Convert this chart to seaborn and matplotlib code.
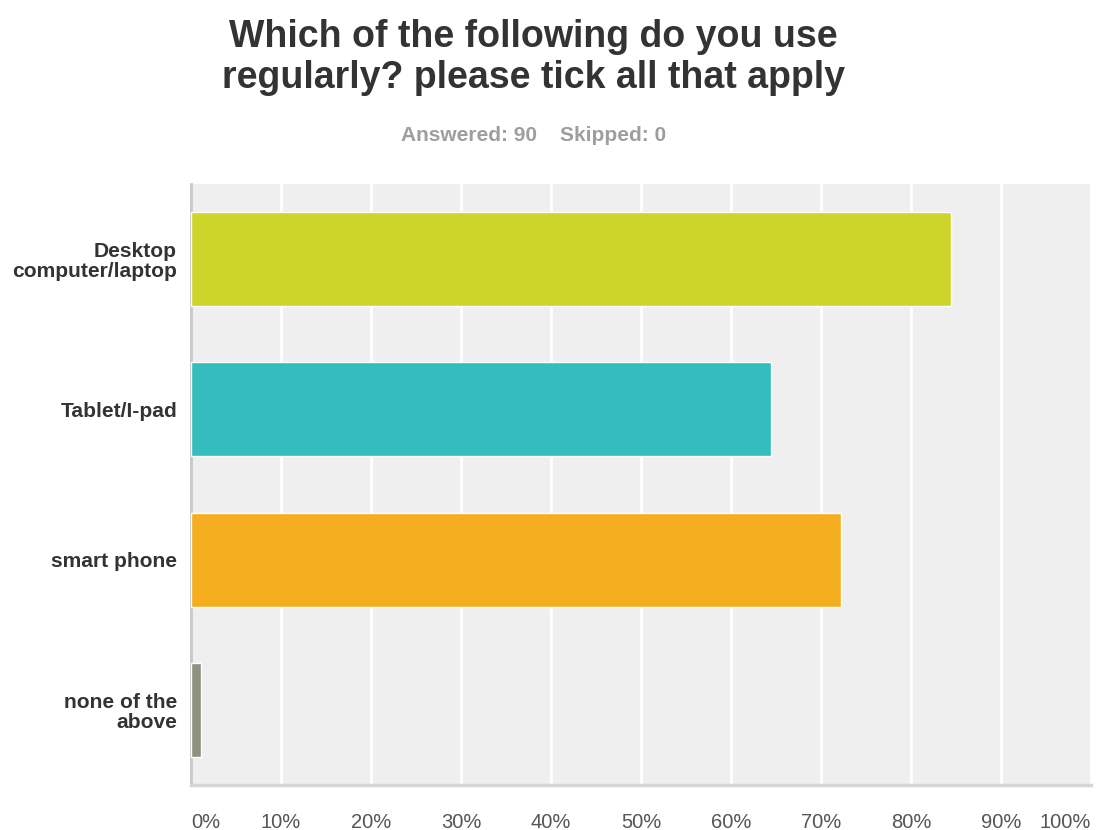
import matplotlib
matplotlib.use("Agg")
import matplotlib.pyplot as plt
from matplotlib import font_manager
import seaborn as sns
import pandas as pd

# Survey responses (percent of 90 respondents)
categories = ["Desktop\ncomputer/laptop", "Tablet/I-pad", "smart phone", "none of the\nabove"]
percentages = [84.44, 64.44, 72.22, 1.11]
bar_colors = ["#CDD52A", "#33BDBE", "#F5AE1F", "#8E9080"]
tick_values = [0, 10, 20, 30, 40, 50, 60, 70, 80, 90, 100]
tick_labels = ["0%", "10%", "20%", "30%", "40%", "50%", "60%", "70%", "80%", "90%", "100%"]

title_lines = ["Which of the following do you use", "regularly? please tick all that apply"]
subtitle = "Answered: 90    Skipped: 0"

sns.set_theme(style="white")
plt.rcParams["font.family"] = ["Liberation Sans", "DejaVu Sans"]

available = {f.name for f in font_manager.fontManager.ttflist}
narrow = "Liberation Sans Narrow" if "Liberation Sans Narrow" in available else "Liberation Sans"

df = pd.DataFrame({"category": categories, "pct": percentages})

fig = plt.figure(figsize=(10.96, 8.3), dpi=100)
W, H = 1096, 830
ax = fig.add_axes([191 / W, 1 - 785 / H, 900 / W, 601 / H])
ax.set_facecolor("#EFEFEF")

sns.barplot(data=df, x="pct", y="category", hue="category", palette=bar_colors,
            orient="h", width=0.625, legend=False, saturation=1, ax=ax, zorder=3)

ax.set_xlim(0, 100)
ax.set_ylim(3.5, -0.5)
ax.set_xticks(tick_values)
ax.set_xticklabels(tick_labels, fontsize=14.5, color="#555555", family=narrow)
for i, lab in enumerate(ax.get_xticklabels()):
    if i == 0:
        lab.set_ha("left")
    elif i == len(tick_values) - 1:
        lab.set_ha("right")
ax.tick_params(axis="x", length=0, pad=20)
ax.tick_params(axis="y", length=0, pad=10)
for lab in ax.get_yticklabels():
    lab.set_fontsize(15.1)
    lab.set_fontweight("bold")
    lab.set_color("#333333")
    lab.set_linespacing(1.05)
ax.set_xlabel("")
ax.set_ylabel("")

ax.grid(axis="x", color="white", linewidth=2, zorder=1)
ax.set_axisbelow(True)
for side in ["top", "right"]:
    ax.spines[side].set_visible(False)
ax.spines["left"].set_color("#C8C8C8")
ax.spines["left"].set_linewidth(2)
ax.spines["bottom"].set_color("#D6D6D6")
ax.spines["bottom"].set_linewidth(2.5)

fig.text(533 / W, 1 - 47 / H, title_lines[0], ha="center", va="baseline",
         fontsize=27, fontweight="bold", color="#333333")
fig.text(533 / W, 1 - 88 / H, title_lines[1], ha="center", va="baseline",
         fontsize=27, fontweight="bold", color="#333333")
fig.text(534 / W, 1 - 141 / H, subtitle, ha="center", va="baseline",
         fontsize=15, fontweight="bold", color="#9E9E9E")

fig.savefig("out.png", dpi=100, facecolor="white")
